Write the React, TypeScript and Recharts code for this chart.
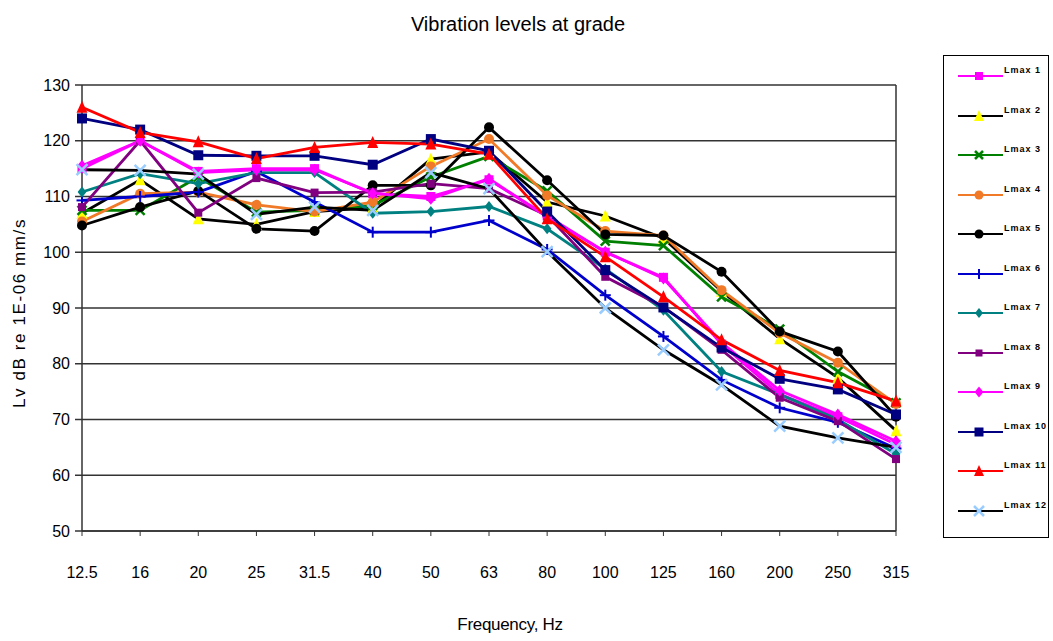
import React from 'react';
import { LineChart, Line, XAxis, YAxis, CartesianGrid, ReferenceLine } from 'recharts';

const frequencies = ['12.5', '16', '20', '25', '31.5', '40', '50', '63', '80', '100', '125', '160', '200', '250', '315'];
const yTicks = [50, 60, 70, 80, 90, 100, 110, 120, 130];

const lmax1 = [115, 120, 114.5, 115, 115, 110.5, 110, 113, 106.5, 100, 95.5, 83.5, 74.5, 70.5, 65.5];
const lmax2 = [107, 113, 106, 105, 107.3, 108, 116.7, 118, 109, 106.5, 102.5, 93, 84.5, 77.5, 68];
const lmax3 = [107.5, 107.5, 113.5, 107.2, 107.5, 108.4, 113.5, 117.2, 111, 102, 101.2, 92, 86.2, 78.6, 73];
const lmax4 = [105.5, 110.5, 110.8, 108.5, 107.3, 109, 115.4, 120.3, 110.2, 103.8, 103, 93.2, 85.5, 80.2, 72.8];
const lmax5 = [104.8, 108.1, 111, 104.2, 103.8, 112, 112, 122.4, 112.9, 103.2, 103, 96.5, 85.8, 82.2, 70.5];
const lmax6 = [109.3, 110, 110.8, 114.5, 109, 103.6, 103.6, 105.7, 100.5, 92.3, 84.9, 77.1, 72.1, 69.5, 64.8];
const lmax7 = [110.8, 114.1, 112.3, 114.3, 114.3, 107, 107.3, 108.2, 104.2, 97, 89.6, 78.6, 74.5, 70, 63.8];
const lmax8 = [108.1, 120, 107.1, 113.3, 110.7, 110.8, 112.3, 111.4, 106.6, 95.6, 90.2, 82.5, 73.9, 69.7, 62.9];
const lmax9 = [115.5, 120, 114.3, 114.8, 114.8, 110.6, 109.6, 113.2, 106.3, 100.1, 95.3, 83.8, 75.2, 70.9, 66.1];
const lmax10 = [124, 122, 117.4, 117.3, 117.3, 115.7, 120.3, 118.2, 107.3, 96.8, 90.1, 82.9, 77.3, 75.4, 70.9];
const lmax11 = [126, 121.5, 119.8, 116.8, 118.8, 119.7, 119.4, 117.6, 106, 99.2, 92, 84.3, 78.8, 76.6, 73.3];
const lmax12 = [114.8, 114.7, 114, 106.8, 108.1, 107.5, 114.3, 111.4, 100.1, 90, 82.5, 76.2, 68.8, 66.7, 65];

type Shape = 'square' | 'triangle' | 'x' | 'circle' | 'plus' | 'diamond';

const series: { key: string; values: number[]; line: string; mark: string; shape: Shape; size: number }[] = [
  { key: 'Lmax 1', values: lmax1, line: '#ff00ff', mark: '#ff00ff', shape: 'square', size: 9 },
  { key: 'Lmax 2', values: lmax2, line: '#000000', mark: '#ffff00', shape: 'triangle', size: 11 },
  { key: 'Lmax 3', values: lmax3, line: '#008000', mark: '#008000', shape: 'x', size: 9 },
  { key: 'Lmax 4', values: lmax4, line: '#f07a28', mark: '#f07a28', shape: 'circle', size: 10 },
  { key: 'Lmax 5', values: lmax5, line: '#000000', mark: '#000000', shape: 'circle', size: 10 },
  { key: 'Lmax 6', values: lmax6, line: '#0000cc', mark: '#0000cc', shape: 'plus', size: 11 },
  { key: 'Lmax 7', values: lmax7, line: '#008080', mark: '#008080', shape: 'diamond', size: 11 },
  { key: 'Lmax 8', values: lmax8, line: '#800080', mark: '#800080', shape: 'square', size: 8 },
  { key: 'Lmax 9', values: lmax9, line: '#ff00ff', mark: '#ff00ff', shape: 'diamond', size: 12 },
  { key: 'Lmax 10', values: lmax10, line: '#000080', mark: '#000080', shape: 'square', size: 10 },
  { key: 'Lmax 11', values: lmax11, line: '#ff0000', mark: '#ff0000', shape: 'triangle', size: 11 },
  { key: 'Lmax 12', values: lmax12, line: '#000000', mark: '#99ccff', shape: 'x', size: 11 },
];

const data = frequencies.map((f, i) => {
  const row: { [k: string]: string | number } = { freq: f };
  series.forEach((s) => {
    row[s.key] = s.values[i];
  });
  return row;
});

function Marker(props: { cx: number; cy: number; shape: Shape; color: string; size: number }) {
  const { cx, cy, shape, color, size } = props;
  const h = size / 2;
  switch (shape) {
    case 'square':
      return <rect x={cx - h} y={cy - h} width={size} height={size} fill={color} />;
    case 'triangle':
      return <polygon points={`${cx},${cy - h - 1} ${cx + h},${cy + h} ${cx - h},${cy + h}`} fill={color} />;
    case 'circle':
      return <circle cx={cx} cy={cy} r={h} fill={color} />;
    case 'diamond':
      return <polygon points={`${cx},${cy - h} ${cx + h * 0.8},${cy} ${cx},${cy + h} ${cx - h * 0.8},${cy}`} fill={color} />;
    case 'x':
      return (
        <g stroke={color} strokeWidth={2.5}>
          <line x1={cx - h} y1={cy - h} x2={cx + h} y2={cy + h} />
          <line x1={cx - h} y1={cy + h} x2={cx + h} y2={cy - h} />
        </g>
      );
    case 'plus':
      return (
        <g stroke={color} strokeWidth={2}>
          <line x1={cx - h} y1={cy} x2={cx + h} y2={cy} />
          <line x1={cx} y1={cy - h} x2={cx} y2={cy + h} />
        </g>
      );
  }
  return null;
}

const makeDot = (s: (typeof series)[number]) => (p: any) => {
  if (p.cx == null || p.cy == null) return <g key={p.index} />;
  return (
    <g key={`${s.key}-${p.index}`}>
      <Marker cx={p.cx} cy={p.cy} shape={s.shape} color={s.mark} size={s.size} />
    </g>
  );
};

const font = '"Liberation Sans", Arial, sans-serif';

function LegendBox() {
  return (
    <div
      style={{
        position: 'absolute',
        left: 943,
        top: 55,
        width: 106,
        height: 483,
        border: '1px solid #000',
        boxSizing: 'border-box',
      }}
    >
      {series.map((s, i) => (
        <div key={s.key} style={{ position: 'absolute', left: 0, top: 6 + i * 39.5, width: 106, height: 24 }}>
          <svg width={62} height={24} style={{ position: 'absolute', left: 12, top: 0 }}>
            <line x1={2} y1={14} x2={47} y2={14} stroke={s.line} strokeWidth={2} />
            <Marker cx={23} cy={14} shape={s.shape} color={s.mark} size={s.size - 1} />
          </svg>
          <span
            style={{
              position: 'absolute',
              left: 60,
              top: 3,
              fontFamily: font,
              fontSize: 9,
              fontWeight: 'bold',
              letterSpacing: 1,
              whiteSpace: 'nowrap',
              color: '#000',
            }}
          >
            {s.key}
          </span>
        </div>
      ))}
    </div>
  );
}

export default function App() {
  return (
    <div style={{ position: 'absolute', left: 0, top: 0, width: 1053, height: 641, background: '#fff' }}>
      <div
        style={{
          position: 'absolute',
          left: 0,
          width: 1036,
          top: 13,
          textAlign: 'center',
          fontFamily: font,
          fontSize: 20,
          letterSpacing: 0,
          color: '#000',
        }}
      >
        Vibration levels at grade
      </div>
      <div
        style={{
          position: 'absolute',
          left: 20,
          top: 313,
          transform: 'translate(-50%, -50%) rotate(-90deg)',
          fontFamily: font,
          fontSize: 17,
          letterSpacing: 1.6,
          whiteSpace: 'nowrap',
          color: '#000',
        }}
      >
        Lv dB re 1E-06 mm/s
      </div>
      <div
        style={{
          position: 'absolute',
          left: 0,
          width: 1020,
          top: 615,
          textAlign: 'center',
          fontFamily: font,
          fontSize: 17,
          letterSpacing: -0.3,
          color: '#000',
        }}
      >
        Frequency, Hz
      </div>
      <LineChart
        width={1053}
        height={641}
        data={data}
        margin={{ top: 85, right: 157, bottom: 70, left: 0 }}
        style={{ position: 'absolute', left: 0, top: 0 }}
      >
        <CartesianGrid vertical={false} stroke="#333" strokeWidth={1.5} />
        <XAxis
          dataKey="freq"
          type="category"
          interval={0}
          height={40}
          axisLine={{ stroke: '#333', strokeWidth: 1.5 }}
          tickLine={{ stroke: '#333' }}
          tickSize={5}
          tickMargin={31}
          tick={{ fill: '#000', fontSize: 16, fontFamily: font }}
          padding={{ left: 0, right: 0 }}
        />
        <YAxis
          domain={[50, 130]}
          ticks={yTicks}
          interval={0}
          width={82}
          axisLine={{ stroke: '#333', strokeWidth: 1.5 }}
          tickLine={{ stroke: '#333', strokeWidth: 1.5 }}
          tickSize={7}
          tickMargin={5}
          tick={{ fill: '#000', fontSize: 16, fontFamily: font }}
        />
        <ReferenceLine x="315" stroke="#333" strokeWidth={1.5} />
        {series.map((s) => (
          <Line
            key={s.key}
            type="linear"
            dataKey={s.key}
            stroke={s.line}
            strokeWidth={2.8}
            dot={makeDot(s)}
            activeDot={false}
            isAnimationActive={false}
          />
        ))}
      </LineChart>
      <LegendBox />
    </div>
  );
}
